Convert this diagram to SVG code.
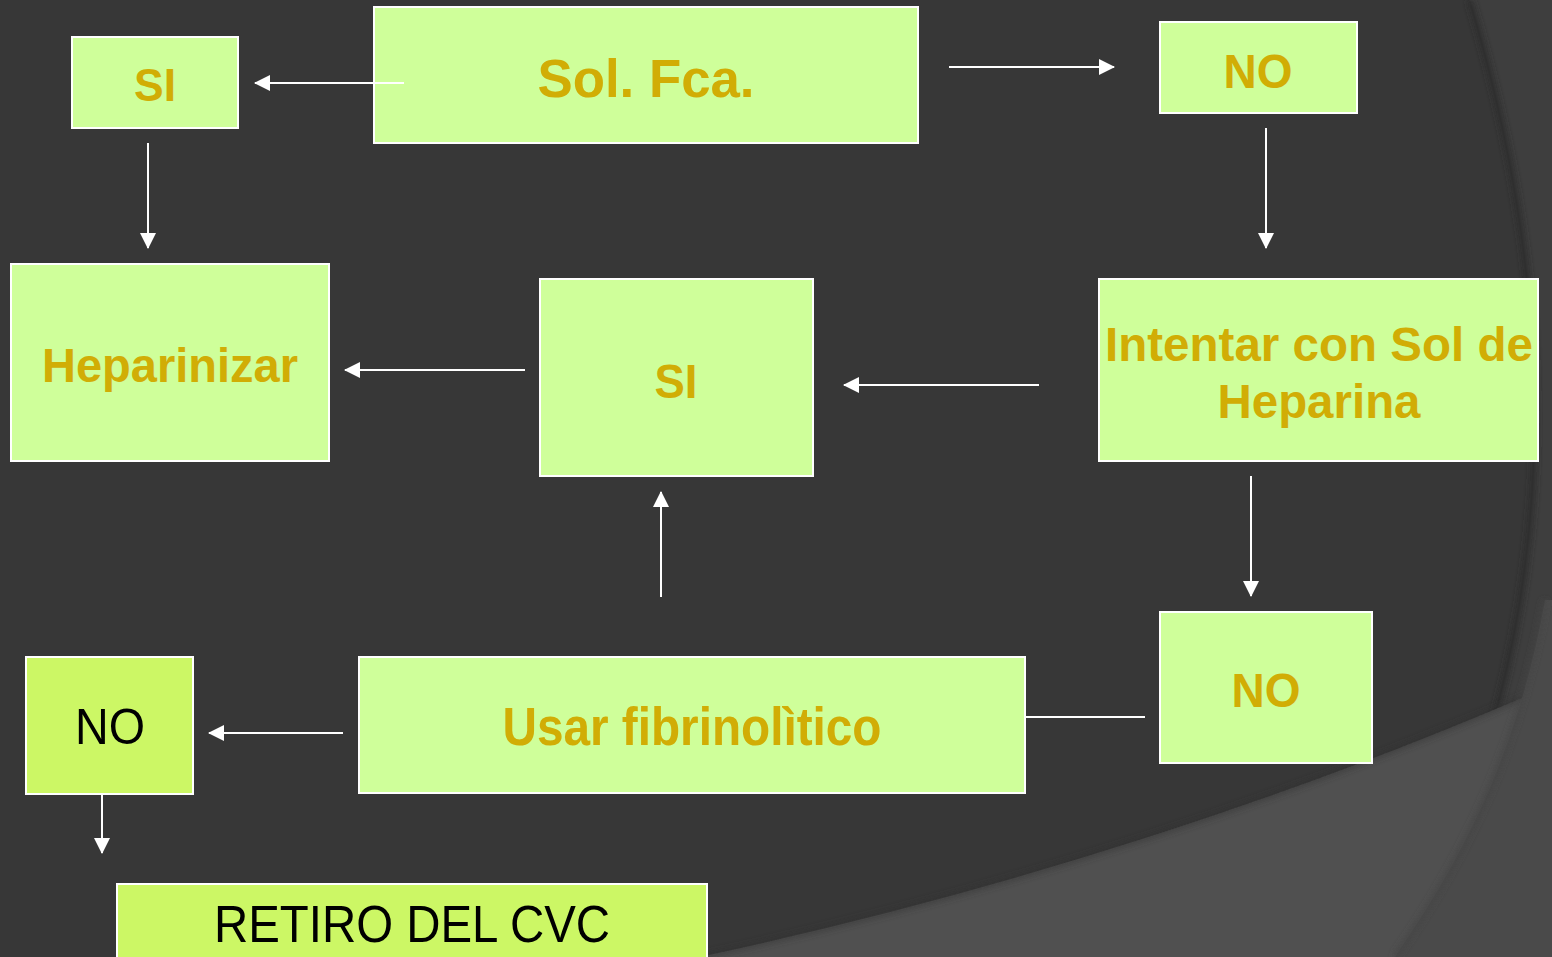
<svg xmlns="http://www.w3.org/2000/svg" width="1552" height="957" viewBox="0 0 1552 957">
  <defs>
    <style>
      .box { fill: #cfff9a; stroke: #ffffff; stroke-width: 2; }
      .box2 { fill: #ccf765; stroke: #ffffff; stroke-width: 2; }
      .lbl { font-family: "Liberation Sans", Arial, sans-serif; font-weight: bold; fill: #d1ad05; text-anchor: middle; }
      .lbl2 { font-family: "Liberation Sans", Arial, sans-serif; font-weight: normal; fill: #000000; text-anchor: middle; }
      .conn { stroke: #ffffff; stroke-width: 2; fill: none; }
    </style>
    <marker id="arrow" viewBox="0 0 16 16" refX="15" refY="8" markerWidth="16" markerHeight="16" markerUnits="userSpaceOnUse" orient="auto">
      <path d="M0,0 L16,8 L0,16 Z" fill="#ffffff"/>
    </marker>
    <filter id="soft" x="-5%" y="-5%" width="110%" height="110%">
      <feGaussianBlur stdDeviation="3"/>
    </filter>
  </defs>

  <!-- background -->
  <rect x="0" y="0" width="1552" height="957" fill="#373737"/>
  <path d="M1470,0 C1560,300 1575,640 1395,957 L1552,957 L1552,0 Z" fill="#3e3e3e"/>
  <path d="M1470,0 C1560,300 1575,640 1395,957" fill="none" stroke="#2a2a2a" stroke-width="5" filter="url(#soft)"/>
  <path d="M700,957 Q1150,860 1552,685 L1552,957 Z" fill="#505050"/>
  <path d="M700,957 Q1150,860 1552,685" fill="none" stroke="#303030" stroke-width="4" filter="url(#soft)" opacity="0.7"/>
  <path d="M1545,600 C1520,740 1470,850 1395,957 L1552,957 L1552,600 Z" fill="#4a4a4a"/>
  <path d="M1545,600 C1520,740 1470,850 1395,957" fill="none" stroke="#444444" stroke-width="4" filter="url(#soft)"/>

  <!-- nodes -->
  <g id="node-si-top">
    <rect class="box" x="72" y="37" width="166" height="91"/>
    <text class="lbl" x="155" y="101" font-size="47" textLength="42" lengthAdjust="spacingAndGlyphs">SI</text>
  </g>
  <g id="node-sol-fca">
    <rect class="box" x="374" y="7" width="544" height="136"/>
    <text class="lbl" x="646" y="97" font-size="54" textLength="217" lengthAdjust="spacingAndGlyphs">Sol. Fca.</text>
  </g>
  <g id="node-no-top">
    <rect class="box" x="1160" y="22" width="197" height="91"/>
    <text class="lbl" x="1258" y="88" font-size="49" textLength="69" lengthAdjust="spacingAndGlyphs">NO</text>
  </g>
  <g id="node-heparinizar">
    <rect class="box" x="11" y="264" width="318" height="197"/>
    <text class="lbl" x="170" y="382" font-size="48" textLength="256" lengthAdjust="spacingAndGlyphs">Heparinizar</text>
  </g>
  <g id="node-si-mid">
    <rect class="box" x="540" y="279" width="273" height="197"/>
    <text class="lbl" x="676" y="398" font-size="48" textLength="43" lengthAdjust="spacingAndGlyphs">SI</text>
  </g>
  <g id="node-intentar">
    <rect class="box" x="1099" y="279" width="439" height="182"/>
    <text class="lbl" x="1319" y="361" font-size="48" textLength="428" lengthAdjust="spacingAndGlyphs">Intentar con Sol de</text>
    <text class="lbl" x="1319" y="418" font-size="48" textLength="203" lengthAdjust="spacingAndGlyphs">Heparina</text>
  </g>
  <g id="node-no-bottom">
    <rect class="box" x="1160" y="612" width="212" height="151"/>
    <text class="lbl" x="1266" y="707" font-size="49" textLength="69" lengthAdjust="spacingAndGlyphs">NO</text>
  </g>
  <g id="node-fibrinolitico">
    <rect class="box" x="359" y="657" width="666" height="136"/>
    <text class="lbl" x="692" y="745" font-size="54" textLength="379" lengthAdjust="spacingAndGlyphs">Usar fibrinolìtico</text>
  </g>
  <g id="node-no-left">
    <rect class="box2" x="26" y="657" width="167" height="137"/>
    <text class="lbl2" x="110" y="744" font-size="50" textLength="70" lengthAdjust="spacingAndGlyphs">NO</text>
  </g>
  <g id="node-retiro">
    <rect class="box2" x="117" y="884" width="590" height="80"/>
    <text class="lbl2" x="412" y="942" font-size="51" textLength="396" lengthAdjust="spacingAndGlyphs">RETIRO DEL CVC</text>
  </g>

  <!-- connectors -->
  <g id="connectors">
    <line class="conn" x1="404" y1="83" x2="255" y2="83" marker-end="url(#arrow)"/>
    <line class="conn" x1="949" y1="67" x2="1114" y2="67" marker-end="url(#arrow)"/>
    <line class="conn" x1="148" y1="143" x2="148" y2="248" marker-end="url(#arrow)"/>
    <line class="conn" x1="1266" y1="128" x2="1266" y2="248" marker-end="url(#arrow)"/>
    <line class="conn" x1="525" y1="370" x2="345" y2="370" marker-end="url(#arrow)"/>
    <line class="conn" x1="1039" y1="385" x2="844" y2="385" marker-end="url(#arrow)"/>
    <line class="conn" x1="1251" y1="476" x2="1251" y2="596" marker-end="url(#arrow)"/>
    <line class="conn" x1="661" y1="597" x2="661" y2="492" marker-end="url(#arrow)"/>
    <line class="conn" x1="1025" y1="717" x2="1145" y2="717"/>
    <line class="conn" x1="343" y1="733" x2="209" y2="733" marker-end="url(#arrow)"/>
    <line class="conn" x1="102" y1="794" x2="102" y2="853" marker-end="url(#arrow)"/>
  </g>
</svg>
